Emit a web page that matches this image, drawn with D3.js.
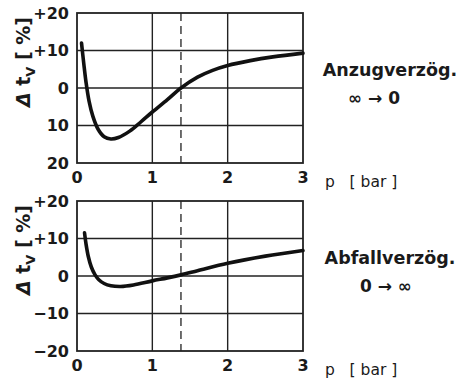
<!DOCTYPE html>
<html>
<head>
<meta charset="utf-8">
<script src="https://cdn.jsdelivr.net/npm/d3@7"></script>
<style>
  html, body { margin: 0; padding: 0; background: #fff; }
  svg { display: block; }
  text { font-family: "DejaVu Sans", sans-serif; fill: #1a1a1a; }
</style>
</head>
<body>
<svg id="chart" width="472" height="380"></svg>
<script>
// Pressure axis (bar) and relative delay change (%)
const xTicks = [0, 1, 2, 3];
const yTicks = [20, 10, 0, -10, -20];
const yTickLabelsTop = ["20", "10", "0", "+10", "+20"];
const yTickLabelsBottom = ["\u221220", "\u221210", "0", "+10", "+20"];
const refPressure = 1.38;

// Anzugverzögerung: delay change versus pressure
const pickupP = [0.06, 0.09, 0.12, 0.16, 0.21, 0.28, 0.36, 0.45, 0.55, 0.7, 0.85, 1.0, 1.2, 1.38, 1.6, 1.8, 2.0, 2.3, 2.6, 3.0];
const pickupD = [12, 6.5, 1.5, -3.5, -7.5, -11, -13, -13.6, -13.2, -11.5, -9, -6.4, -3.1, 0, 2.9, 4.7, 6.0, 7.3, 8.3, 9.3];

// Abfallverzögerung: delay change versus pressure
const dropP = [0.1, 0.12, 0.15, 0.19, 0.24, 0.29, 0.36, 0.45, 0.58, 0.75, 1.0, 1.2, 1.38, 1.6, 2.0, 2.5, 3.0];
const dropD = [11.5, 8.5, 5.2, 2.4, 0.3, -1.0, -2.0, -2.6, -2.8, -2.4, -1.3, -0.5, 0.3, 1.4, 3.4, 5.3, 6.8];

const svg = d3.select("#chart");
const x = d3.scaleLinear().domain([0, 3]).range([77, 303]);

function panel(top, bottom, tickLabels, px, py, title, arrowText, arrowX) {
  const y = d3.scaleLinear().domain([-20, 20]).range([bottom, top]);
  const g = svg.append("g");

  // grid
  g.selectAll(".vg").data([1, 2]).join("line")
    .attr("x1", d => x(d)).attr("x2", d => x(d))
    .attr("y1", top).attr("y2", bottom)
    .attr("stroke", "#222").attr("stroke-width", 1.4);
  g.selectAll(".hg").data([10, 0, -10]).join("line")
    .attr("x1", x(0)).attr("x2", x(3))
    .attr("y1", d => y(d)).attr("y2", d => y(d))
    .attr("stroke", "#222").attr("stroke-width", 1.4);

  // reference pressure
  g.append("line")
    .attr("x1", x(refPressure)).attr("x2", x(refPressure))
    .attr("y1", top).attr("y2", bottom)
    .attr("stroke", "#222").attr("stroke-width", 1.3)
    .attr("stroke-dasharray", "8,5");

  // frame
  g.append("rect")
    .attr("x", x(0)).attr("y", top)
    .attr("width", x(3) - x(0)).attr("height", bottom - top)
    .attr("fill", "none").attr("stroke", "#222").attr("stroke-width", 1.8);

  // curve
  const pts = px.map((p, i) => [p, py[i]]);
  g.append("path")
    .datum(pts)
    .attr("d", d3.line().x(d => x(d[0])).y(d => y(d[1])).curve(d3.curveCatmullRom.alpha(0.5)))
    .attr("fill", "none").attr("stroke", "#111").attr("stroke-width", 3.6)
    .attr("stroke-linecap", "round");

  // y tick labels
  g.selectAll(".yl").data(yTicks).join("text")
    .attr("x", 69).attr("y", d => y(d))
    .attr("dy", "0.36em")
    .attr("text-anchor", "end")
    .attr("font-size", 16).attr("font-weight", "bold")
    .text((d, i) => tickLabels[yTicks.length - 1 - i]);

  // x tick labels
  g.selectAll(".xl").data(xTicks).join("text")
    .attr("x", d => x(d)).attr("y", bottom + 14)
    .attr("dy", "0.36em")
    .attr("text-anchor", "middle")
    .attr("font-size", 16).attr("font-weight", "bold")
    .text(d => d);

  // x axis title
  g.append("text")
    .attr("x", 325).attr("y", bottom + 18).attr("dy", "0.36em")
    .attr("font-size", 15.5)
    .attr("xml:space", "preserve")
    .text("p   [ bar ]");

  // y axis title: Δ t_V [%]
  const yt = g.append("text")
    .attr("transform", `translate(30,${(top + bottom) / 2 - 26}) rotate(-90)`)
    .attr("text-anchor", "middle")
    .attr("font-size", 19).attr("font-weight", "bold")
    .attr("xml:space", "preserve");
  yt.append("tspan").attr("font-style", "italic").text("\u0394");
  yt.append("tspan").text(" t");
  yt.append("tspan").attr("font-size", 13).attr("dy", 5).text("V");
  yt.append("tspan").attr("dy", -5).text(" [ %]");

  // annotation
  g.append("text")
    .attr("x", 390).attr("y", top + 57).attr("dy", "0.36em")
    .attr("text-anchor", "middle").attr("font-size", 17.5).attr("font-weight", "bold")
    .text(title);
  g.append("text")
    .attr("x", arrowX).attr("y", top + 85).attr("dy", "0.36em")
    .attr("text-anchor", "middle").attr("font-size", 17).attr("font-weight", "bold")
    .text(arrowText);
}

panel(13, 163, yTickLabelsTop, pickupP, pickupD, "Anzugverzög.", "\u221E \u2192 0", 374);
panel(201, 351, yTickLabelsBottom, dropP, dropD, "Abfallverzög.", "0 \u2192 \u221E", 386);
</script>
</body>
</html>
